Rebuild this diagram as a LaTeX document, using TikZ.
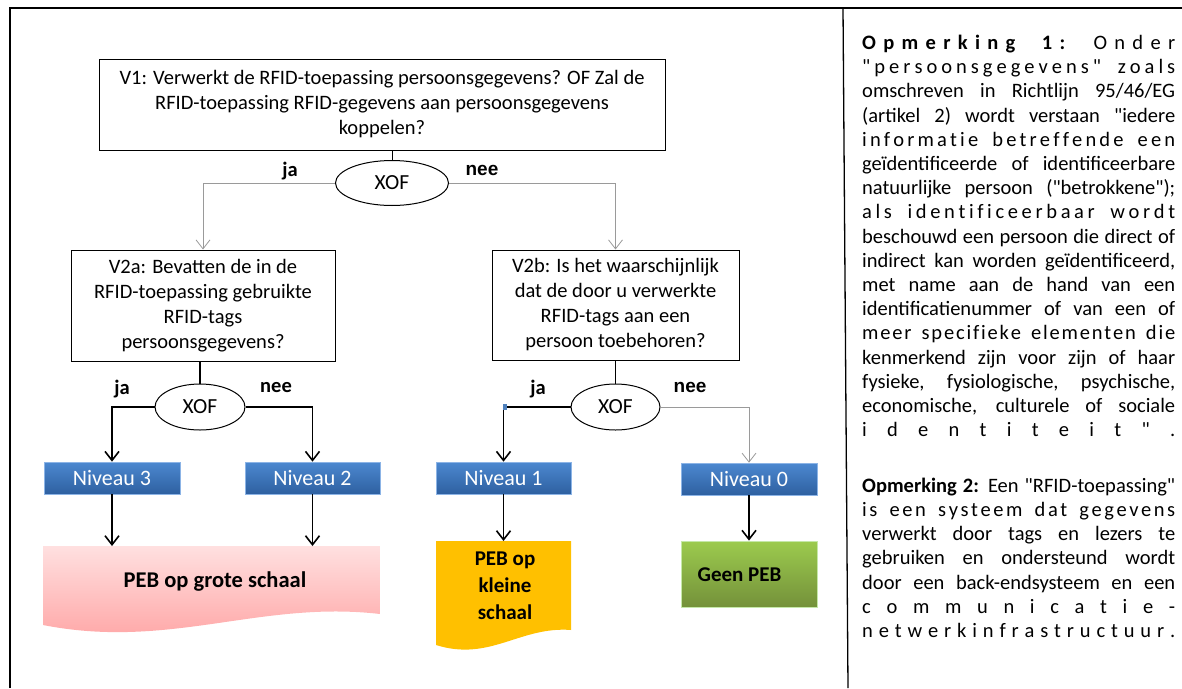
\documentclass[tikz,border=0pt]{standalone}
\usepackage{fontspec}
\setmainfont{Carlito}[Ligatures=TeXOff]
\newfontfamily\arialf{Liberation Sans}[Ligatures=TeXOff]
\usetikzlibrary{arrows.meta,shapes.geometric}
\definecolor{nivtop}{RGB}{76,136,208}
\definecolor{nivbot}{RGB}{46,96,160}
\definecolor{nivborder}{RGB}{140,180,230}
\definecolor{pinktop}{RGB}{255,224,224}
\definecolor{pinkbot}{RGB}{255,160,160}
\definecolor{docorange}{RGB}{255,192,0}
\definecolor{greentop}{RGB}{156,203,78}
\definecolor{greenbot}{RGB}{116,145,58}
\definecolor{greenborder}{RGB}{197,232,168}
\definecolor{linegray}{RGB}{154,154,154}
\definecolor{markblue}{RGB}{79,129,189}
% distributed (letter-spaced) line
\def\dB{dB}\def\dN{dN}
\def\distB#1{\ifx#1|\space\hfil\hfil\else\ifx#1\dB\bfseries\else\ifx#1\dN\mdseries\else#1\hfil\fi\fi\fi}
\def\distA#1{\ifx#1\relax\else\distB#1\expandafter\distA\fi}
\newcommand\distline[1]{\hbox to 313pt{\distA#1\relax\hskip 0pt plus -1fil}}
\newcommand\jline[1]{\hbox to 313pt{\spaceskip=0.226em plus 1fil\relax #1}}
\begin{document}
\begin{tikzpicture}[x=1pt,y=-1pt,
  qbox/.style={draw, line width=1pt, align=center, inner sep=0pt,
    font=\fontsize{20.5}{25}\selectfont},
  xof/.style={ellipse, draw, line width=1pt, inner sep=0pt,
    minimum width=113pt, minimum height=45pt, font=\fontsize{21.5}{25}\selectfont},
  niv/.style={draw=nivborder, line width=0.6pt, top color=nivtop, bottom color=nivbot,
    text=white, inner sep=0pt, minimum width=136pt, minimum height=32pt,
    font=\fontsize{22}{26}\selectfont},
  lab/.style={font=\bfseries\fontsize{20.5}{24}\selectfont, inner sep=0pt},
  labA/.style={font=\arialf\bfseries\fontsize{19}{24}\selectfont, inner sep=0pt},
  doctxt/.style={font=\bfseries\fontsize{21}{27}\selectfont, align=center, inner sep=0pt},
  blk/.style={line width=1.6pt},
  barr/.style={line width=1.6pt, -{Straight Barb[length=9pt,width=14pt]}},
  garr/.style={draw=linegray, line width=0.8pt, -{Straight Barb[length=9pt,width=14pt]}},
  rtxt/.style={anchor=base west, inner sep=0pt, font=\fontsize{20.5}{24}\selectfont},
  frame/.style={line width=1.3pt}
]
\useasboundingbox (0,0) rectangle (1182,688);
% frame
\draw[frame] (10,688) -- (10,8) -- (1182,8);
\draw[frame] (843,8) -- (848,688);

% question boxes
\node[qbox, minimum width=566pt, minimum height=91pt] (v1) at (382,104.5)
  {V1: Verwerkt de RFID-toepassing persoonsgegevens? OF Zal de\\
   RFID-toepassing RFID-gegevens aan persoonsgegevens\\ koppelen?};
\node[xof] (e1) at (392,183) {XOF};
\node[qbox, minimum width=264pt, minimum height=111pt] (v2a) at (203,305.5)
  {V2a: Bevatten de in de\\ RFID-toepassing gebruikte\\ RFID-tags\\ persoonsgegevens?};
\node[qbox, minimum width=247pt, minimum height=110pt] (v2b) at (615.5,305)
  {V2b: Is het waarschijnlijk\\ dat de door u verwerkte\\ RFID-tags aan een\\ persoon toebehoren?};
\node[xof, minimum width=90pt, minimum height=46pt] (e2) at (200,407) {XOF};
\node[xof, minimum width=89pt, minimum height=46pt] (e3) at (615.5,407) {XOF};

% labels
\node[lab] (l1) at (290,171) {ja};
\node[labA] (l2) at (482,170) {nee};
\node[lab] (l3) at (122,389) {ja};
\node[lab] (l4) at (276,388) {nee};
\node[lab] (l5) at (538,389) {ja};
\node[labA] (l6) at (690,387) {nee};

% niveau boxes
\node[niv] (n3) at (112,478) {Niveau 3};
\node[niv, minimum width=135pt] (n2) at (312.5,478) {Niveau 2};
\node[niv, minimum width=135pt] (n1) at (503.5,478) {Niveau 1};
\node[niv] (n0) at (749,479) {Niveau 0};

% result shapes
\path[top color=pinktop, bottom color=pinkbot]
  (43,546) -- (380,546) -- (380,614) .. controls (260,600) and (170,650) .. (43,625) -- cycle;
\coordinate (docAtop) at (211.5,546);
\node[doctxt, font=\bfseries\fontsize{22.5}{27}\selectfont] (docA) at (215,582) {PEB op grote schaal};
\fill[docorange]
  (436,541) -- (571,541) -- (571,630) .. controls (520,626) and (490,662) .. (436,645) -- cycle;
\coordinate (docBtop) at (503.5,541);
\node[doctxt] (docB) at (505,586) {PEB op\\ kleine\\ schaal};
\node[draw=greenborder, line width=0.8pt, top color=greentop, bottom color=greenbot,
  minimum width=136pt, minimum height=66pt, inner sep=0pt] (geen) at (749,574) {};
\node[doctxt] (geentxt) at (739.5,575) {Geen PEB};

% connectors
\draw[blk, line width=1pt] (e1.north |- v1.south) -- (e1.north);
\draw[garr] (e1.west) -| (v2a.north);
\draw[garr] (e1.east) -| (v2b.north);
\draw[blk] (e2.north |- v2a.south) -- (e2.north);
\draw[blk] (e3.north |- v2b.south) -- (e3.north);
\draw[barr] (e2.west) -| (n3.north);
\draw[barr] (e2.east) -| (n2.north);
\draw[barr] (e3.west) -| (n1.north);
\draw[garr] (e3.east) -| (n0.north);
\fill[markblue] (503,404) rectangle (507,410);
\draw[barr] (n3.south) -- (n3.south |- docAtop);
\draw[barr] (n2.south) -- (n2.south |- docAtop);
\draw[barr] (n1.south) -- (n1.south |- docBtop);
\draw[barr] (n0.south) -- (geen.north);

% right-hand notes
\node[rtxt] (r1) at (862,49.5) {\distline{\dB Opmerking|1:|\dN Onder}};
\node[rtxt] (r2) at (862,73.7) {\distline{"persoonsgegevens"|zoals}};
\node[rtxt] (r3) at (862,97.9) {\jline{omschreven in Richtlijn 95/46/EG}};
\node[rtxt] (r4) at (862,122.1) {\jline{(artikel 2) wordt verstaan "iedere}};
\node[rtxt] (r5) at (862,146.3) {\distline{informatie|betreffende|een}};
\node[rtxt] (r6) at (862,170.4) {\jline{geïdentificeerde of identificeerbare}};
\node[rtxt] (r7) at (862,194.6) {\jline{natuurlijke persoon ("betrokkene");}};
\node[rtxt] (r8) at (862,218.8) {\distline{als|identificeerbaar|wordt}};
\node[rtxt] (r9) at (862,243.0) {\jline{beschouwd een persoon die direct of}};
\node[rtxt] (r10) at (862,267.2) {\jline{indirect kan worden geïdentificeerd,}};
\node[rtxt] (r11) at (862,291.4) {\jline{met name aan de hand van een}};
\node[rtxt] (r12) at (862,315.6) {\jline{identificatienummer of van een of}};
\node[rtxt] (r13) at (862,339.8) {\distline{meer|specifieke|elementen|die}};
\node[rtxt] (r14) at (862,364.0) {\jline{kenmerkend zijn voor zijn of haar}};
\node[rtxt] (r15) at (862,388.2) {\jline{fysieke, fysiologische, psychische,}};
\node[rtxt] (r16) at (862,412.4) {\jline{economische, culturele of sociale}};
\node[rtxt] (r17) at (862,436.5) {\distline{identiteit".}};

\node[rtxt] (s1) at (862,492.0) {\jline{\textbf{Opmerking 2:} Een "RFID-toepassing"}};
\node[rtxt] (s2) at (862,516.3) {\distline{is|een|systeem|dat|gegevens}};
\node[rtxt] (s3) at (862,540.6) {\jline{verwerkt door tags en lezers te}};
\node[rtxt] (s4) at (862,564.9) {\jline{gebruiken en ondersteund wordt}};
\node[rtxt] (s5) at (862,589.2) {\jline{door een back-endsysteem en een}};
\node[rtxt] (s6) at (862,613.5) {\distline{communicatie-}};
\node[rtxt] (s7) at (862,637.8) {\distline{netwerkinfrastructuur.}};
\end{tikzpicture}
\end{document}
